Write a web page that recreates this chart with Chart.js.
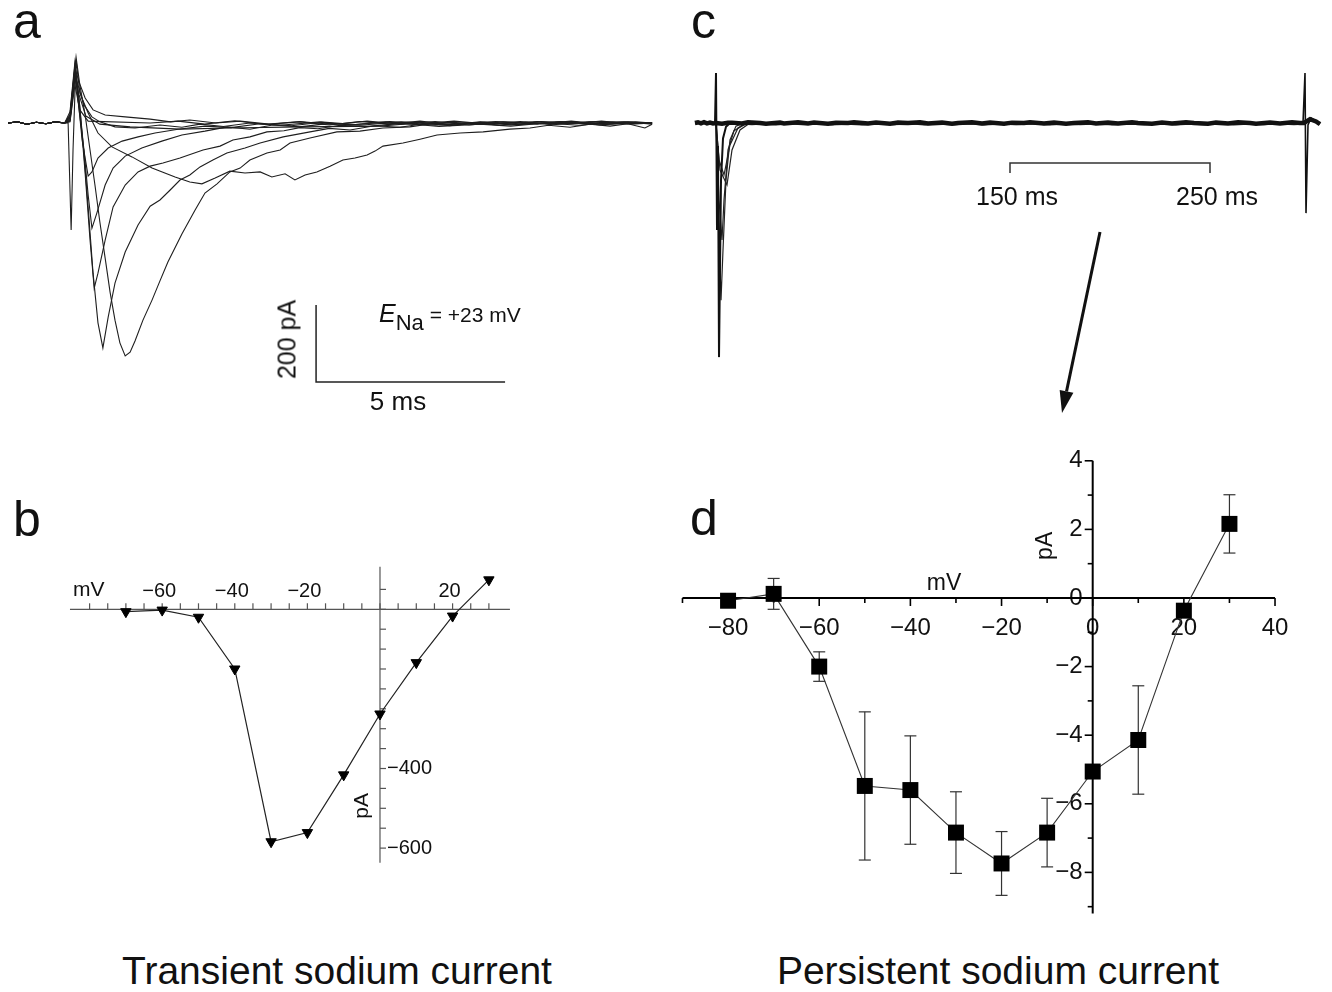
<!DOCTYPE html>
<html>
<head>
<meta charset="utf-8">
<script src="https://cdn.jsdelivr.net/npm/chart.js@4.4.0/dist/chart.umd.min.js"></script>
<style>
  body { margin: 0; background: #fff; width: 1332px; height: 992px; position: relative; overflow: hidden;
         font-family: "Liberation Sans", Arial, sans-serif; color: #111; }
  canvas { position: absolute; }
  .t { position: absolute; line-height: 1; white-space: nowrap; }
  .big { font-size: 50px; }
  .title { font-size: 39px; text-align: center; }
</style>
</head>
<body>
<canvas id="cA" width="660" height="360" style="left:0;top:40px"></canvas>
<canvas id="cB" width="460" height="315" style="left:60px;top:555px"></canvas>
<canvas id="cC" width="652" height="380" style="left:680px;top:40px"></canvas>
<canvas id="cD" width="660" height="485" style="left:640px;top:440px"></canvas>

<div class="t big" style="left:13px;top:-4px">a</div>
<div class="t big" style="left:13px;top:494px">b</div>
<div class="t big" style="left:691px;top:-4px">c</div>
<div class="t big" style="left:690px;top:493px">d</div>
<div class="t title" style="left:0;top:951px;width:674px">Transient sodium current</div>
<div class="t title" style="left:664px;top:951px;width:668px">Persistent sodium current</div>

<div class="t" style="left:227px;top:327px;width:120px;height:25px;line-height:25px;font-size:25px;text-align:center;transform:rotate(-90deg)">200 pA</div>
<div class="t" style="left:338px;top:388px;width:120px;font-size:26px;text-align:center">5 ms</div>
<div class="t" style="left:379px;top:301px;font-size:25px"><i>E</i><span style="font-size:22px;position:relative;top:8px">Na</span><span style="font-size:21px"> = +23 mV</span></div>
<div class="t" style="left:957px;top:184px;width:120px;font-size:25px;text-align:center">150 ms</div>
<div class="t" style="left:1157px;top:184px;width:120px;font-size:25px;text-align:center">250 ms</div>

<script>
// ---------- panel a : transient Na currents, time (ms) vs current (pA) ----------
const preStim = [[0,0],[0.25,3],[0.5,-3],[0.75,2],[1.0,-2],[1.25,3],[1.5,0]];
const trM60 = [[1.64,3],[1.77,99],[1.90,34],[2.12,5],[3.76,0],[4.5,5],[5.2,-3],[6.0,6],[6.8,-4],[7.72,3],[8.5,-5],[9.3,4],[10.1,-3],
  [10.9,5],[11.7,-4],[12.5,3],[13.3,-5],[14.1,4],[14.9,-2],[15.7,5],[16.5,-3],[17.04,0]];
const trM50 = [[1.64,5],[1.77,117],[1.88,73],[2.06,18],[2.43,-3],[3.23,-10],[4.55,-16],[5.87,-13],[7.72,-10],[9.84,-8],[10.6,-2],
  [11.4,-9],[12.49,-3],[13.3,-8],[14.2,0],[15.1,-6],[16.0,2],[17.04,0]];
const trM40 = [[1.59,0],[1.67,-278],[1.72,-70],[1.80,164],[1.90,78],[2.12,26],[2.38,-26],[2.75,-62],[3.28,-88],[3.81,-117],[4.42,-140],
  [4.81,-153],[5.13,-158],[5.48,-143],[5.87,-125],[6.27,-130],[6.67,-127],[6.98,-140],[7.33,-132],[7.59,-148],[7.86,-135],[8.17,-127],
  [8.52,-112],[8.86,-96],[9.18,-91],[9.50,-83],[9.71,-73],[9.92,-60],[10.45,-52],[10.90,-42],[11.35,-31],[11.96,-26],[12.57,-23],
  [13.28,-16],[13.81,-13],[14.3,-6],[14.87,-11],[15.4,-3],[15.93,-8],[16.4,-2],[16.85,-13],[17.04,-3]];
const trM30 = [[1.64,21],[1.80,171],[1.90,99],[2.04,21],[2.17,-70],[2.30,-161],[2.43,-257],[2.57,-351],[2.70,-439],[2.83,-512],[2.96,-571],
  [3.10,-605],[3.23,-595],[3.36,-566],[3.57,-512],[3.81,-460],[4.02,-410],[4.23,-361],[4.60,-288],[4.95,-226],[5.21,-182],[5.53,-158],
  [5.87,-127],[6.14,-117],[6.40,-96],[6.85,-78],[7.20,-70],[7.46,-52],[7.99,-39],[8.70,-23],[9.31,-21],[9.92,-13],[10.63,-10],
  [11.2,-2],[11.69,-7],[12.4,1],[13.02,-6],[13.7,2],[14.34,-4],[15.0,3],[15.66,-5],[16.3,1],[17.04,0]];
const trM20 = [[1.64,29],[1.77,158],[1.88,60],[1.98,-44],[2.12,-218],[2.25,-390],[2.38,-519],[2.51,-584],[2.65,-504],[2.83,-416],[3.10,-335],
  [3.44,-265],[3.76,-216],[4.02,-200],[4.29,-174],[4.55,-148],[4.81,-135],[5.08,-114],[5.42,-96],[5.79,-78],[6.27,-65],[6.67,-52],
  [7.28,-36],[7.99,-23],[8.5,-14],[9.05,-18],[9.7,-7],[10.37,-11],[11.0,-2],[11.69,-6],[12.6,2],[13.55,-4],[14.6,4],[15.66,-2],[16.4,3],[17.04,-3]];
const trM10 = [[1.64,21],[1.77,151],[1.90,42],[2.04,-130],[2.17,-304],[2.28,-429],[2.38,-390],[2.57,-304],[2.78,-218],[3.10,-161],[3.44,-127],
  [3.76,-112],[4.10,-104],[4.55,-91],[5.16,-70],[5.61,-60],[5.95,-44],[6.40,-36],[6.85,-23],[7.3,-20],[7.72,-12],[8.2,-15],[8.78,-6],
  [9.5,-9],[10.37,-1],[11.3,-6],[12.49,2],[13.5,-4],[14.60,3],[15.8,-3],[17.04,0]];
const tr0 = [[1.64,13],[1.77,138],[1.85,60],[2.01,-70],[2.12,-187],[2.22,-273],[2.35,-234],[2.57,-161],[2.78,-117],[3.10,-86],[3.54,-65],
  [4.07,-47],[4.60,-31],[5.21,-21],[5.8,-10],[6.40,-16],[7.0,-5],[7.72,-10],[8.5,-1],[9.31,-6],[10.4,3],[11.69,-3],[12.9,4],[14.34,-2],
  [15.6,4],[17.04,0]];
const trP10 = [[1.64,16],[1.77,132],[1.83,86],[1.96,-44],[2.12,-138],[2.22,-127],[2.38,-91],[2.65,-65],[3.02,-47],[3.44,-36],[3.89,-26],
  [4.50,-16],[5.21,-8],[5.9,-12],[6.67,-2],[7.5,-7],[8.3,2],[9.05,-5],[10.0,3],[10.9,-4],[11.69,2],[12.8,-3],[14.0,4],[15.3,-2],[16.3,3],[17.04,0]];
const trP20 = [[1.64,8],[1.77,125],[1.85,99],[2.01,47],[2.22,16],[2.43,3],[2.83,-10],[3.36,-13],[4.02,-5],[4.6,-11],[5.08,-3],[5.7,-9],
  [6.40,0],[7.2,-6],[8.25,3],[9.2,-4],[10.1,4],[10.90,-2],[11.8,5],[12.7,-3],[13.55,4],[14.5,-4],[15.4,3],[16.3,-2],[17.04,0]];
const trP30 = [[1.64,8],[1.77,143],[1.88,106],[2.04,65],[2.25,34],[2.57,21],[3.10,16],[3.76,10],[4.3,3],[4.81,8],[5.5,0],[6.14,5],[6.9,-3],
  [7.72,4],[8.6,-4],[9.5,5],[10.4,-3],[11.3,4],[12.2,-5],[13.1,3],[14.0,-3],[14.9,5],[15.8,-4],[16.6,3],[17.04,0]];
const aTraces = [trM60, trM50, trM40, trM30, trM20, trM10, tr0, trP10, trP20, trP30];
const aBarStart = [8.15, -472.7];   // scale bar corner: ms, pA
const aBarLen = [5, 200];           // 5 ms, 200 pA

// ---------- panel b : transient I-V ----------
const bVolt = [-70, -60, -50, -40, -30, -20, -10, 0, 10, 20, 30];
const bCurr = [-6, -2, -20, -150, -584, -561, -416, -263, -134, -17, 74];
const bXLabels = [-60, -40, -20, 20];
const bYLabels = [-400, -600];

// ---------- panel c : 300 ms pulse ----------
const cBase = [[-7.5,0],[-6,2],[-4.5,-1],[-3,2],[-1.5,-1],[0,1],[1.5,-1],[3,0],[6,-2],[9,1],
  [11,1],[16,-1],[19,2],[25,0],[28,-2],[35,1],[37,-1],[44,2],[49,-1],[52,1],[59,-2],[63,1],[69,0],[72,2],[79,-1],
  [83,1],[90,-2],[94,1],[99,0],[105,2],[109,-1],[116,1],[121,-2],[124,0],[131,2],[136,-1],[140,1],[147,-2],[151,1],
  [157,0],[160,2],[167,-1],[172,1],[178,-2],[182,0],[189,2],[193,-1],[199,1],[204,-1],[211,2],[214,0],[221,-2],
  [226,1],[231,-1],[238,2],[242,0],[249,-2],[253,1],[259,-1],[264,2],[270,0],[273,-2],[280,1],[285,-1],[291,2],
  [295,0],[297,0],[300,10],[303,4],[305,-3]];
const cBase2 = [[-7.5,-2],[-4,1],[-1,-2],[3,-1],[8,-3],[14,-1],[21,-3],[27,-1],[33,-4],[40,-1],[46,-3],[55,-1],[61,-4],
  [68,-2],[76,-4],[85,-1],[92,-3],[101,-1],[107,-4],[113,-2],[122,-3],[130,-1],[137,-4],[145,-2],[153,-3],[162,-1],
  [170,-4],[177,-2],[185,-3],[194,-1],[201,-4],[208,-2],[217,-3],[225,-1],[233,-4],[240,-2],[247,-3],[256,-1],
  [262,-4],[269,-2],[277,-3],[284,-1],[292,-3],[297,-2]];
const cOnset = [[2.5,0],[3,130],[3.5,-278],[4,-60],[4.5,-608],[5.5,-150],[6.5,-40],[8,-10],[10,0]];
const cOffset = [[296.5,0],[297.5,130],[298,-234],[299,-5],[300.5,13],[303,5],[305,-3]];
const cTr1 = [[3,0],[4.5,-200],[6,-304],[7,-200],[9,-70],[12,-20],[17,-5],[22,0]];
const cTr2 = [[3,0],[5,-122],[8.5,-161],[11,-70],[15,-18],[20,0]];
const cTr3 = [[3,0],[4.5,-96],[7,-135],[10,-57],[14,-13],[18,0]];
const cTr4 = [[3,0],[5.5,-460],[6.5,-330],[8,-148],[10,-44],[13,-8],[17,0]];
const cWindow = [150, 250];          // ms, averaged window
const cWindowLevel = -104;           // pA
const cArrow = [[195, -283], [176, -753]];

// ---------- panel d : persistent I-V ----------
const dVolt = [-80, -70, -60, -50, -40, -30, -20, -10, 0, 10, 20, 30];
const dCurr = [-0.08, 0.12, -2.0, -5.48, -5.6, -6.84, -7.74, -6.84, -5.06, -4.14, -0.37, 2.16];
const dErr = [0, 0.45, 0.43, 2.16, 1.58, 1.19, 0.93, 1.0, 0, 1.58, 0, 0.85];
const dXMajor = [-80, -60, -40, -20, 0, 20, 40];
const dXMinor = [-90, -70, -50, -30, -10, 10, 30];
const dYMajor = [4, 2, 0, -2, -4, -6, -8];
const dYMinor = [3, 1, -1, -3, -5, -7, -9];

const FONT = '"Liberation Sans", Arial, sans-serif';
const fmt = v => (v < 0 ? '\u2212' + Math.abs(v) : String(v));
const pts = arr => arr.map(p => ({x: p[0], y: p[1]}));

function baseOptions(xmin, xmax, ymin, ymax) {
  return {
    responsive: false,
    animation: false,
    layout: {padding: 0, autoPadding: false},
    plugins: {legend: {display: false}, tooltip: {enabled: false}},
    elements: {point: {radius: 0}, line: {tension: 0}},
    scales: {
      x: {type: 'linear', min: xmin, max: xmax, display: false},
      y: {type: 'linear', min: ymin, max: ymax, display: false}
    }
  };
}

function seg(ctx, x1, y1, x2, y2) {
  ctx.beginPath(); ctx.moveTo(x1, y1); ctx.lineTo(x2, y2); ctx.stroke();
}

// panel a
const scaleBars = {
  id: 'scaleBars',
  afterDatasetsDraw(chart) {
    const {ctx, scales: {x, y}} = chart;
    const x0 = x.getPixelForValue(aBarStart[0]);
    const yTop = y.getPixelForValue(aBarStart[1]);
    const yBot = y.getPixelForValue(aBarStart[1] - aBarLen[1]);
    const x1 = x.getPixelForValue(aBarStart[0] + aBarLen[0]);
    ctx.save();
    ctx.strokeStyle = '#222'; ctx.lineWidth = 1.5;
    ctx.beginPath(); ctx.moveTo(x0, yTop); ctx.lineTo(x0, yBot); ctx.lineTo(x1, yBot); ctx.stroke();
    ctx.restore();
  }
};

new Chart(document.getElementById('cA'), {
  type: 'scatter',
  data: {
    datasets: aTraces.map(tr => ({
      data: pts(preStim.concat(tr)),
      showLine: true, borderColor: '#1e1e1e', borderWidth: 1.1, pointRadius: 0, clip: false
    }))
  },
  options: baseOptions(-0.212, 17.249, -719.4, 215.6),
  plugins: [scaleBars]
});

// panel b
const axesB = {
  id: 'axesB',
  beforeDatasetsDraw(chart) {
    const {ctx, scales: {x, y}} = chart;
    const x0 = x.getPixelForValue(0), y0 = y.getPixelForValue(0);
    ctx.save();
    ctx.strokeStyle = '#555'; ctx.lineWidth = 1.2;
    seg(ctx, x.getPixelForValue(-85.4), y0, x.getPixelForValue(35.8), y0);
    seg(ctx, x0, y.getPixelForValue(107), x0, y.getPixelForValue(-637));
    for (let v = -80; v <= 30; v += 5) seg(ctx, x.getPixelForValue(v), y0, x.getPixelForValue(v), y0 - 6);
    for (let v = 50; v >= -600; v -= 50) seg(ctx, x0, y.getPixelForValue(v), x0 + 6, y.getPixelForValue(v));
    ctx.fillStyle = '#111';
    ctx.font = '20px ' + FONT;
    ctx.textAlign = 'center'; ctx.textBaseline = 'alphabetic';
    bXLabels.forEach(v => ctx.fillText(fmt(v), x.getPixelForValue(v) - 3, y0 - 12));
    ctx.textAlign = 'left'; ctx.textBaseline = 'middle';
    bYLabels.forEach(v => ctx.fillText(fmt(v), x0 + 7, y.getPixelForValue(v)));
    ctx.font = '21px ' + FONT;
    ctx.textBaseline = 'alphabetic';
    ctx.fillText('mV', x.getPixelForValue(-85.4) + 3, y0 - 13);
    ctx.translate(x0 - 18, y.getPixelForValue(-494));
    ctx.rotate(-Math.PI / 2);
    ctx.textAlign = 'center'; ctx.textBaseline = 'middle';
    ctx.fillText('pA', 0, 0);
    ctx.restore();
  }
};

new Chart(document.getElementById('cB'), {
  type: 'scatter',
  data: {
    datasets: [{
      data: bVolt.map((v, i) => ({x: v, y: bCurr[i]})),
      showLine: true, borderColor: '#222', borderWidth: 1.2,
      pointStyle: 'triangle', pointRotation: 180, pointRadius: 6,
      pointBackgroundColor: '#000', pointBorderColor: '#000', pointBorderWidth: 1, clip: false
    }]
  },
  options: baseOptions(-88.15, 38.57, -655.0, 136.4),
  plugins: [axesB]
});

// panel c
const cMarks = {
  id: 'cMarks',
  afterDatasetsDraw(chart) {
    const {ctx, scales: {x, y}} = chart;
    ctx.save();
    ctx.strokeStyle = '#333'; ctx.lineWidth = 1.5;
    const xa = x.getPixelForValue(cWindow[0]), xb = x.getPixelForValue(cWindow[1]);
    const yl = y.getPixelForValue(cWindowLevel);
    ctx.beginPath(); ctx.moveTo(xa, yl + 10); ctx.lineTo(xa, yl); ctx.lineTo(xb, yl); ctx.lineTo(xb, yl + 10); ctx.stroke();
    // arrow
    const ax = x.getPixelForValue(cArrow[0][0]), ay = y.getPixelForValue(cArrow[0][1]);
    const bx = x.getPixelForValue(cArrow[1][0]), by = y.getPixelForValue(cArrow[1][1]);
    const ang = Math.atan2(by - ay, bx - ax), head = 22, half = 7;
    const hx = bx - head * Math.cos(ang), hy = by - head * Math.sin(ang);
    ctx.strokeStyle = '#111'; ctx.fillStyle = '#111'; ctx.lineWidth = 3;
    seg(ctx, ax, ay, hx, hy);
    ctx.beginPath();
    ctx.moveTo(bx, by);
    ctx.lineTo(hx + half * Math.sin(ang), hy - half * Math.cos(ang));
    ctx.lineTo(hx - half * Math.sin(ang), hy + half * Math.cos(ang));
    ctx.closePath(); ctx.fill();
    ctx.restore();
  }
};

const thin = d => ({data: pts(d), showLine: true, borderColor: '#222', borderWidth: 1.2, pointRadius: 0, clip: false});
new Chart(document.getElementById('cC'), {
  type: 'scatter',
  data: {
    datasets: [
      {data: pts(cBase), showLine: true, borderColor: '#111', borderWidth: 4.5, pointRadius: 0, clip: false},
      {data: pts(cBase2), showLine: true, borderColor: '#222', borderWidth: 2, pointRadius: 0, clip: false},
      {data: pts(cOnset), showLine: true, borderColor: '#111', borderWidth: 2, pointRadius: 0, clip: false},
      {data: pts(cOffset), showLine: true, borderColor: '#111', borderWidth: 1.6, pointRadius: 0, clip: false},
      thin(cTr1), thin(cTr2), thin(cTr3), thin(cTr4)
    ]
  },
  options: baseOptions(-15, 311, -771.3, 215.6),
  plugins: [cMarks]
});

// panel d
const axesD = {
  id: 'axesD',
  beforeDatasetsDraw(chart) {
    const {ctx, scales: {x, y}} = chart;
    const x0 = x.getPixelForValue(0), y0 = y.getPixelForValue(0);
    ctx.save();
    ctx.fillStyle = '#111';
    ctx.font = '24px ' + FONT;
    ctx.textAlign = 'center'; ctx.textBaseline = 'alphabetic';
    dXMajor.forEach(v => ctx.fillText(fmt(v), x.getPixelForValue(v), y0 + 37));
    ctx.textAlign = 'right'; ctx.textBaseline = 'middle';
    dYMajor.forEach(v => ctx.fillText(fmt(v), x0 - 10, y.getPixelForValue(v)));
    ctx.font = '23px ' + FONT;
    ctx.textAlign = 'center'; ctx.textBaseline = 'alphabetic';
    ctx.fillText('mV', x.getPixelForValue(-32.6), y0 - 8);
    ctx.save();
    ctx.translate(x0 - 47, y.getPixelForValue(1.52));
    ctx.rotate(-Math.PI / 2);
    ctx.textBaseline = 'middle';
    ctx.fillText('pA', 0, 0);
    ctx.restore();

    ctx.strokeStyle = '#000'; ctx.lineWidth = 2;
    seg(ctx, x.getPixelForValue(-90), y0, x.getPixelForValue(40), y0);
    seg(ctx, x0, y.getPixelForValue(4), x0, y.getPixelForValue(-9.2));
    ctx.lineWidth = 1.6;
    dXMajor.forEach(v => seg(ctx, x.getPixelForValue(v), y0, x.getPixelForValue(v), y0 + 8));
    dXMinor.forEach(v => seg(ctx, x.getPixelForValue(v), y0, x.getPixelForValue(v), y0 + 5));
    dYMajor.forEach(v => seg(ctx, x0, y.getPixelForValue(v), x0 - 8, y.getPixelForValue(v)));
    dYMinor.forEach(v => seg(ctx, x0, y.getPixelForValue(v), x0 - 5, y.getPixelForValue(v)));

    // error bars
    ctx.strokeStyle = '#333'; ctx.lineWidth = 1.2;
    dVolt.forEach((v, i) => {
      if (!dErr[i]) return;
      const px = x.getPixelForValue(v);
      const yt = y.getPixelForValue(dCurr[i] + dErr[i]), yb = y.getPixelForValue(dCurr[i] - dErr[i]);
      seg(ctx, px, yt, px, yb);
      seg(ctx, px - 6, yt, px + 6, yt);
      seg(ctx, px - 6, yb, px + 6, yb);
    });
    ctx.restore();
  }
};

new Chart(document.getElementById('cD'), {
  type: 'scatter',
  data: {
    datasets: [{
      data: dVolt.map((v, i) => ({x: v, y: dCurr[i]})),
      showLine: true, borderColor: '#333', borderWidth: 1.1,
      pointStyle: 'rect', pointRadius: 11.3, pointBackgroundColor: '#000', pointBorderWidth: 0, clip: false
    }]
  },
  options: baseOptions(-99.32, 45.48, -9.534, 4.606),
  plugins: [axesD]
});
</script>
</body>
</html>
